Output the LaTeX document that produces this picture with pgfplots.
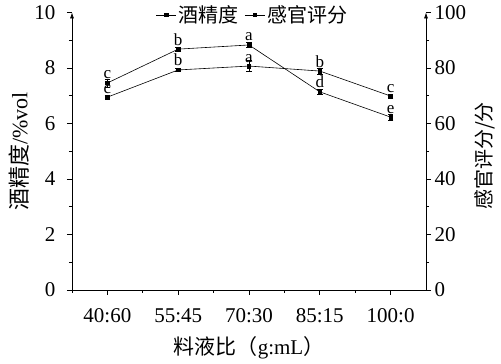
\documentclass[border=0pt]{standalone}
\usepackage{pgfplots}
\pgfplotsset{compat=1.18}
\usepackage{pgfplotstable}
\usetikzlibrary{arrows.meta}
\usepackage{fontspec}
\setmainfont{Liberation Serif}
\newfontfamily\cjk{Noto Sans CJK SC}

\pgfplotstableread{
x y e lab
0 6.95 0.06 c
1 7.93 0.06 b
2 8.07 0.20 a
3 7.89 0.10 b
4 6.99 0.08 c
}\alc
\pgfplotstableread{
x y e lab
0 74.6 1.5 c
1 86.8 0.8 b
2 88.3 1.0 a
3 71.4 0.8 d
4 62.3 1.0 e
}\sen

\pgfplotsset{
  common/.style={
    width=354pt, height=277.5pt, scale only axis,
    xmin=-0.5, xmax=4.5,
    font=\fontsize{21}{24}\selectfont,
    /pgf/number format/assume math mode=true,
    tick align=outside,
    major tick length=5pt, minor tick length=3pt,
    every tick/.style={black, line width=0.6pt},
    every minor tick/.style={black, line width=0.6pt},
    axis line style={line width=0.6pt},
  },
  ser/.style={black, line width=0.6pt, mark=square*, mark size=1.8pt,
    mark options={solid, fill=black},
    error bars/y dir=both, error bars/y explicit,
    error bars/error mark options={rotate=90, mark size=2.8pt, line width=0.6pt, black},
    error bars/error bar style={line width=0.6pt, black}},
  lbl/.style={nodes near coords, point meta=explicit symbolic,
    every node near coord/.append style={anchor=base, yshift=4pt, inner sep=0pt, font=\fontsize{17}{20}\selectfont, black}},
}

\begin{document}
\begin{tikzpicture}
\begin{axis}[common, name=a1,
  axis y line*=left, axis x line*=bottom,
  y axis line style={-{Latex[length=6pt,width=4pt]}},
  x axis line style={-},
  ymin=0, ymax=10, ytick={0,2,...,10}, minor y tick num=1,
  yticklabel style={xshift=-8pt},
  xtick={0,1,2,3,4},
  xticklabels={40:60,55:45,70:30,85:15,100:0},
  xticklabel style={yshift=-10pt},
  minor xtick={-0.5,0.5,1.5,2.5,3.5},
  ylabel={{\cjk 酒精度}/\%vol},
  ylabel style={at={(axis description cs:-0.15,0.5)}, anchor=center, font=\fontsize{22}{24}\selectfont},
  xlabel={{\cjk 料液比（}g:mL{\cjk ）}},
  xlabel style={at={(axis description cs:0.5,-0.209)}, anchor=center},
]
\addplot[ser, lbl] table[x=x, y=y, y error=e, meta=lab] {\alc};
\end{axis}
\begin{axis}[common,
  axis y line*=right, axis x line=none,
  y axis line style={-{Latex[length=6pt,width=4pt]}},
  ymin=0, ymax=100, ytick={0,20,...,100}, minor y tick num=1,
  ylabel={{\cjk 感官评分/分}},
  ylabel style={at={(axis description cs:1.166,0.483)}, anchor=center, font=\fontsize{20}{22}\selectfont},
  legend style={at={(axis description cs:0.51,1)}, anchor=center, yshift=-2.5pt,
    draw=none, fill=none, legend columns=-1,
    font=\fontsize{20}{22}\selectfont\cjk, inner sep=0pt,
    /tikz/every even column/.append style={column sep=4pt}},
  legend image code/.code={\draw[#1, mark=none] (0pt,0pt) -- (20pt,0pt); \draw[#1] plot coordinates {(10pt,0pt)};},
]
\addlegendimage{black, line width=0.6pt, mark=square*, mark size=1.8pt, mark options={fill=black}}
\addlegendentry{酒精度}
\addplot[ser, lbl] table[x=x, y=y, y error=e, meta=lab] {\sen};
\addlegendentry{感官评分}
\end{axis}
\pgfresetboundingbox
\useasboundingbox ([xshift=-72pt,yshift=-74pt]a1.south west) rectangle ([xshift=429pt,yshift=290pt]a1.south west);
\end{tikzpicture}
\end{document}
